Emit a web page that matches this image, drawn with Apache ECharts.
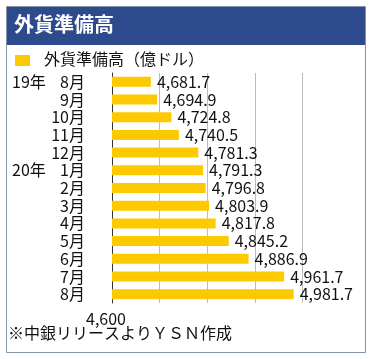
<!DOCTYPE html>
<html>
<head>
<meta charset="utf-8">
<script src="https://cdn.jsdelivr.net/npm/echarts@6/dist/echarts.min.js"></script>
<style>
html,body{margin:0;padding:0;background:#fff;}
#c{width:372px;height:359px;}
</style>
</head>
<body>
<div id="c"></div>
<script>
const title = '外貨準備高';
const seriesName = '外貨準備高（億ドル）';
const footnote = '※中銀リリースよりＹＳＮ作成';
const years = ['19年','','','','','20年','','','','','','',''];
const months = ['8月','9月','10月','11月','12月','1月','2月','3月','4月','5月','6月','7月','8月'];
const values = [4681.7, 4694.9, 4724.8, 4740.5, 4781.3, 4791.3, 4796.8, 4803.9, 4817.8, 4845.2, 4886.9, 4961.7, 4981.7];
const axisMin = 4600, axisMax = 5100, axisStep = 100;
const shownTick = 4600;

const FONT = '"Noto Sans CJK JP", "Noto Sans", sans-serif';
const BAR_COLOR = '#fdc900';
function fmt(v){
  const s = v.toFixed(1);
  const parts = s.split('.');
  parts[0] = parts[0].replace(/\B(?=(\d{3})+(?!\d))/g, ',');
  return parts.join('.');
}
const categories = years.map((y,i)=> y + '|' + months[i]);

const chart = echarts.init(document.getElementById('c'), null, {renderer:'canvas'});
chart.setOption({
  backgroundColor:'#ffffff',
  animation:false,
  textStyle:{fontFamily:FONT},
  graphic:[
    {type:'rect', z:-1, shape:{x:6.5,y:6.5,width:359,height:346}, style:{fill:'#fff', stroke:'#8593a8', lineWidth:1}},
    {type:'rect', z:0, shape:{x:7,y:7,width:358,height:38}, style:{fill:'#2d4a8c'}},
    {type:'text', z:1, left:14, top:14, style:{text:title, fill:'#fff', font:'bold 20px ' + FONT}},
    {type:'rect', z:1, shape:{x:15,y:55,width:15,height:11}, style:{fill:BAR_COLOR}},
    {type:'text', z:1, left:44, top:51, style:{text:seriesName, fill:'#111', font:'16px ' + FONT}},
    {type:'text', z:1, left:8, top:325, style:{text:footnote, fill:'#111', font:'16px ' + FONT}}
  ],
  grid:{left:112, right:22, top:73, bottom:56, containLabel:false},
  xAxis:{
    type:'value', min:axisMin, max:axisMax, interval:axisStep,
    axisLine:{show:false}, axisTick:{show:false},
    splitLine:{show:true, lineStyle:{color:['transparent','#bcbcbc','#bcbcbc','#bcbcbc','#bcbcbc','transparent'], width:1}},
    axisLabel:{
      margin:8, fontSize:16, color:'#111', fontFamily:FONT, padding:[0,12,0,0],
      formatter:(v)=> v===shownTick ? fmt(v).replace('.0','') : ''
    }
  },
  yAxis:{
    type:'category', inverse:true, data:categories,
    axisLine:{show:true, lineStyle:{color:'#333', width:1}},
    axisTick:{show:false},
    axisLabel:{
      margin:27, color:'#111', fontFamily:FONT,
      formatter:(v)=>{ const p=v.split('|'); return '{y|'+p[0]+'}{m|'+p[1]+'}'; },
      rich:{
        y:{width:36, align:'left', fontSize:16, color:'#111', fontFamily:FONT},
        m:{width:37, align:'right', fontSize:16, color:'#111', fontFamily:FONT}
      }
    }
  },
  series:[{
    name:seriesName, type:'bar', data:values, barWidth:10,
    itemStyle:{color:BAR_COLOR},
    label:{show:true, position:'right', distance:6, fontSize:16, color:'#111', fontFamily:FONT, formatter:(p)=>fmt(p.value)}
  }]
});
</script>
</body>
</html>
